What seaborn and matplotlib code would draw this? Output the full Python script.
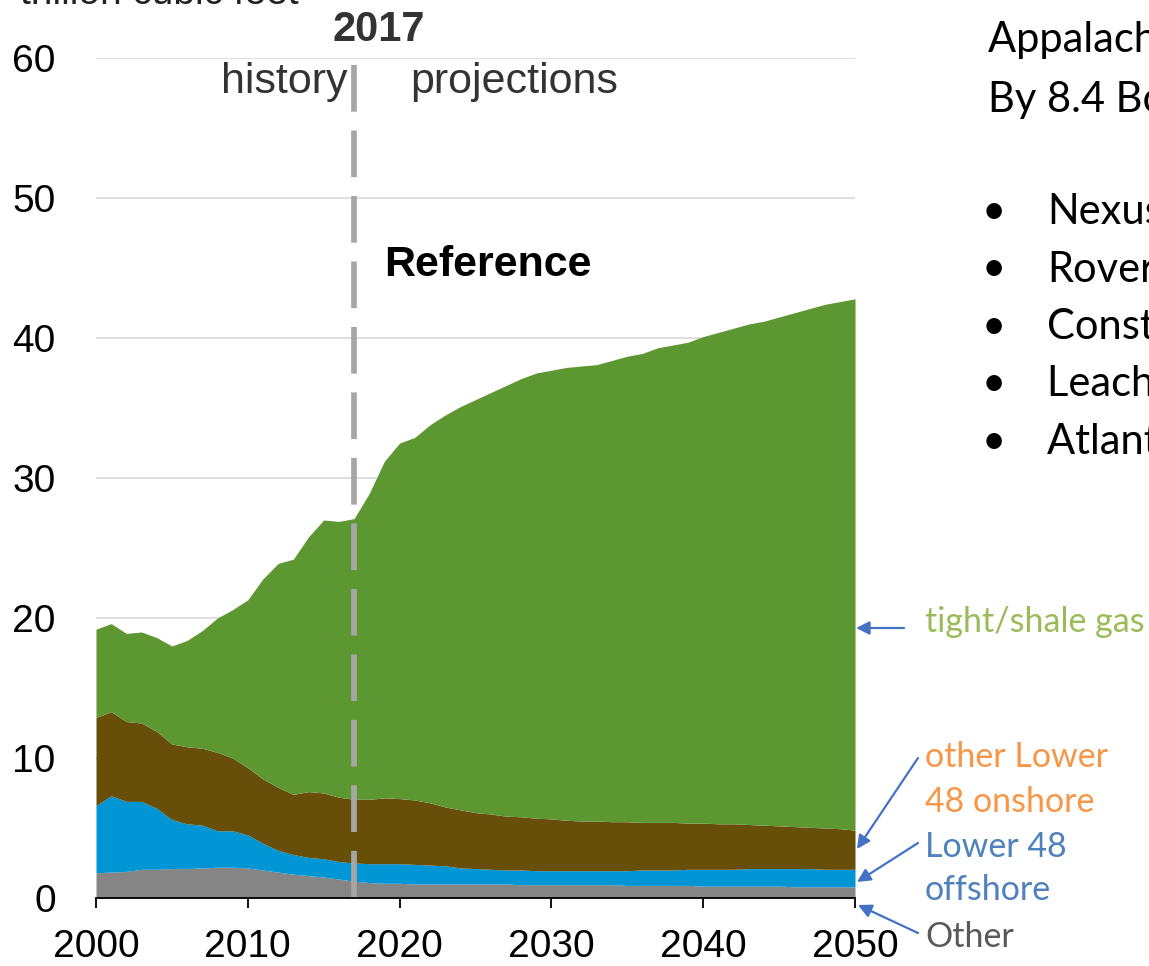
import numpy as np
import pandas as pd
import matplotlib
matplotlib.use("Agg")
import matplotlib.pyplot as plt
import seaborn as sns

years = list(range(2000, 2051))

other = [1.8, 1.85, 1.9, 2.05, 2.05, 2.1, 2.1, 2.15, 2.2, 2.2, 2.15, 2.0, 1.85, 1.7, 1.6, 1.5, 1.35,
         1.2, 1.1, 1.05, 1.05, 1.0, 1.0, 1.0, 1.0, 1.0, 1.0, 1.0, 0.95, 0.95, 0.95, 0.95, 0.95, 0.95,
         0.95, 0.9, 0.9, 0.9, 0.9, 0.9, 0.85, 0.85, 0.85, 0.85, 0.85, 0.85, 0.8, 0.8, 0.8, 0.8, 0.8]
offshore = [4.8, 5.45, 5.0, 4.85, 4.35, 3.5, 3.2, 3.05, 2.6, 2.6, 2.35, 1.9, 1.55, 1.4, 1.3, 1.3, 1.25,
            1.3, 1.35, 1.4, 1.4, 1.4, 1.35, 1.3, 1.15, 1.1, 1.05, 1.0, 1.05, 1.0, 1.0, 1.0, 1.0, 1.0,
            1.0, 1.05, 1.1, 1.1, 1.1, 1.15, 1.2, 1.2, 1.2, 1.25, 1.25, 1.25, 1.3, 1.3, 1.25, 1.25, 1.25]
onshore = [6.3, 6.0, 5.7, 5.6, 5.5, 5.4, 5.5, 5.5, 5.6, 5.2, 4.8, 4.6, 4.5, 4.3, 4.7, 4.7, 4.6,
           4.55, 4.6, 4.7, 4.65, 4.6, 4.45, 4.2, 4.15, 4.0, 3.95, 3.85, 3.8, 3.75, 3.7, 3.6, 3.55, 3.55,
           3.5, 3.5, 3.4, 3.4, 3.4, 3.3, 3.3, 3.25, 3.25, 3.15, 3.1, 3.05, 3.0, 2.95, 2.95, 2.9, 2.8]
shale = [6.3, 6.3, 6.3, 6.5, 6.7, 7.0, 7.6, 8.4, 9.6, 10.6, 12.0, 14.3, 16.0, 16.8, 18.2, 19.5, 19.7,
         20.05, 21.85, 24.05, 25.4, 25.9, 27.0, 28.0, 28.8, 29.5, 30.1, 30.75, 31.3, 31.8, 32.05, 32.35,
         32.5, 32.6, 32.95, 33.25, 33.5, 33.9, 34.1, 34.35, 34.75, 35.1, 35.4, 35.75, 36.0, 36.35, 36.7,
         37.05, 37.4, 37.65, 37.95]

series_names = ["Other", "Lower 48 offshore", "other Lower 48 onshore", "tight/shale gas"]
series_colors = ["#858585", "#0096D6", "#674F0A", "#5D9732"]

y_ticks = [0, 10, 20, 30, 40, 50, 60]
x_ticks = [2000, 2010, 2020, 2030, 2040, 2050]

bullets = ["Nexus", "Rover", "Constitution", "Leach XPress", "Atlantic Coast"]

df = pd.DataFrame({"year": years, series_names[0]: other, series_names[1]: offshore,
                   series_names[2]: onshore, series_names[3]: shale})

sns.set_theme(style="white")
plt.rcParams["font.family"] = ["Liberation Sans", "DejaVu Sans"]

W, H = 1149, 966
fig = plt.figure(figsize=(W / 100, H / 100), dpi=100)
ax = fig.add_axes([96 / W, (H - 898) / H, (855 - 96) / W, (898 - 58) / H])

ax.stackplot(df["year"], *[df[n] for n in series_names], colors=series_colors,
             linewidth=0, zorder=2)

ax.set_xlim(2000, 2050)
ax.set_ylim(0, 60)
ax.set_yticks(y_ticks)
ax.set_xticks(x_ticks)
ax.yaxis.grid(True, color="#D9D9D9", linewidth=1.2, zorder=0)
ax.xaxis.grid(False)
ax.set_axisbelow(True)
for s in ["left", "right", "top"]:
    ax.spines[s].set_visible(False)
ax.spines["bottom"].set_color("black")
ax.spines["bottom"].set_linewidth(1.3)
ax.spines["bottom"].set_zorder(5)
ax.tick_params(axis="x", bottom=True, length=7, width=1.3, color="black",
               labelsize=28, pad=15, labelcolor="black")
ax.tick_params(axis="y", left=False, labelsize=28, pad=23, labelcolor="black")

# 2017 divider
ax.plot([2017, 2017], [59.5, 0], color="#A6A6A6", linewidth=4.1,
        linestyle=(0, (8.2, 3.3)), zorder=4, solid_capstyle="butt")
ax.text(2018.6, 62.0, "2017", fontsize=30, fontweight="bold", color="#333333",
        ha="center", va="center", clip_on=False)
ax.text(2016.6, 58.3, "history", fontsize=31, color="#333333", ha="right", va="center")
ax.text(2020.7, 58.3, "projections", fontsize=31, color="#333333", ha="left", va="center")
ax.text(2019.0, 45.2, "Reference", fontsize=31, fontweight="bold", color="black",
        ha="left", va="center")

fig.text(20 / W, 1 - 4 / H, "trillion cubic feet", fontsize=28, color="#222222",
         ha="left", va="baseline")

# right-hand slide text
cal = ["Lato", "DejaVu Sans"]
fig.text(988 / W, 1 - 40 / H, "Appalachian Takeaway Capacity Increases", fontsize=30,
         family=cal, color="black", ha="left", va="center")
fig.text(988 / W, 1 - 100 / H, "By 8.4 Bcf/d", fontsize=30, family=cal, color="black",
         ha="left", va="center")
for i, b in enumerate(bullets):
    yy = 1 - (212 + i * 57.5) / H
    fig.text(982 / W, yy, "\u2022", fontsize=30, family=cal, color="black", ha="left", va="center")
    fig.text(1047 / W, yy, b, fontsize=30, family=cal, color="black", ha="left", va="center")

# series labels with arrows
arrow_c = "#4472C4"
labels = [
    (925, 622, "tight/shale gas", "#9BBB59"),
    (925, 757, "other Lower", "#F79646"),
    (925, 802, "48 onshore", "#F79646"),
    (925, 847, "Lower 48", "#4F81BD"),
    (925, 890, "offshore", "#4F81BD"),
    (925, 937, "Other", "#595959"),
]
for x, y, t, c in labels:
    fig.text(x / W, 1 - y / H, t, fontsize=24.5, family=cal, color=c, ha="left", va="center")

arrows = [((904, 628), (856, 628)),
          ((918, 758), (857, 849)),
          ((918, 843), (857, 882)),
          ((918, 933), (858, 905))]
for (tx, ty), (hx, hy) in arrows:
    ax.annotate("", xy=(hx, H - hy), xycoords="figure pixels",
                xytext=(tx, H - ty), textcoords="figure pixels",
                arrowprops=dict(arrowstyle="-|>", color=arrow_c, lw=1.6,
                                mutation_scale=20, shrinkA=0, shrinkB=0),
                annotation_clip=False)

fig.savefig("out.png", dpi=100)
